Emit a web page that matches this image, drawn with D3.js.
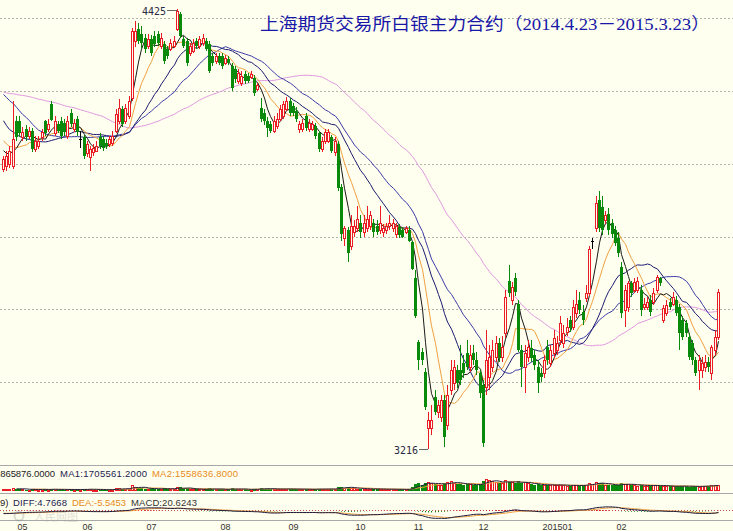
<!DOCTYPE html>
<html><head><meta charset="utf-8">
<script src="https://cdnjs.cloudflare.com/ajax/libs/d3/7.8.5/d3.min.js"></script>
<style>html,body{margin:0;padding:0;background:#ffffef;overflow:hidden}</style>
</head><body>
<svg id="c" width="733" height="531"></svg>
<script>
const titleText = "上海期货交易所白银主力合约（2014.4.23－2015.3.23）";
const holidays = ["2014-05-01","2014-05-02","2014-06-02","2014-09-08","2014-10-01","2014-10-02","2014-10-03","2014-10-06","2014-10-07","2015-01-01","2015-01-02","2015-02-18","2015-02-19","2015-02-20","2015-02-23","2015-02-24"];
const tickMonths = ["2014-05","2014-06","2014-07","2014-08","2014-09","2014-10","2014-11","2014-12","2015-01","2015-02"];
const tickLabels = ["05","06","07","08","09","10","11","12","201501","02"];
const priceTicks = [3400,3600,3800,4000,4200,4400];
const maPeriods = [5,10,20,30,60];

const priorCloses = [4140,4150,4135,4160,4170,4155,4180,4190,4175,4200,4210,4195,4220,4230,4215,4240,4250,4235,4260,4245,4230,4220,4240,4225,4210,4200,4190,4205,4215,4200,4260,4300,4330,4360,4380,4370,4350,4340,4330,4320,4290,4250,4220,4200,4180,4160,4140,4120,4100,4070,4110,4100,4090,4080,4070,4060,4040,4030,4035];

const opens = [3986,3994,4000,3994,4118,4118,4072,4096,4077,4091,4041,4049,4072,4118,4096,4165,4083,4110,4118,4113,4077,4140,4096,4123,4068,4072,4028,4017,4031,4036,4072,4068,4058,4055,4058,4091,4118,4151,4118,4132,4181,4337,4370,4357,4346,4324,4343,4351,4357,4324,4329,4315,4315,4324,4370,4411,4343,4337,4305,4310,4337,4324,4332,4337,4329,4296,4283,4296,4296,4277,4288,4269,4261,4228,4222,4247,4241,4239,4236,4206,4154,4140,4118,4110,4091,4104,4123,4132,4151,4173,4159,4145,4096,4096,4132,4096,4096,4104,4083,4041,4063,4063,4072,4031,4055,3937,3797,3817,3775,3811,3822,3838,3811,3822,3830,3838,3828,3817,3811,3817,3828,3822,3806,3825,3817,3811,3817,3784,3685,3510,3482,3427,3274,3274,3359,3318,3304,3351,3282,3378,3397,3433,3433,3452,3479,3441,3479,3460,3425,3392,3386,3414,3441,3468,3507,3468,3534,3679,3625,3685,3616,3488,3441,3468,3493,3474,3441,3425,3425,3496,3452,3479,3488,3515,3507,3537,3570,3551,3589,3625,3592,3630,3644,3789,3822,3899,3880,3844,3863,3836,3817,3795,3715,3597,3606,3671,3652,3652,3652,3606,3606,3625,3619,3652,3685,3570,3589,3619,3616,3625,3606,3570,3562,3523,3507,3460,3433,3433,3441,3455,3425,3488,3523];
const highs = [4022,4036,4049,4173,4132,4132,4102,4107,4102,4099,4077,4077,4096,4121,4123,4173,4132,4118,4129,4123,4132,4151,4123,4132,4091,4080,4063,4049,4055,4063,4083,4077,4068,4077,4091,4151,4178,4159,4165,4187,4373,4392,4387,4378,4357,4357,4354,4365,4365,4359,4337,4324,4343,4351,4425,4417,4351,4346,4332,4343,4346,4351,4357,4346,4337,4305,4305,4305,4305,4299,4296,4277,4269,4261,4255,4255,4250,4255,4244,4222,4181,4151,4129,4118,4132,4140,4162,4173,4184,4181,4167,4156,4118,4123,4140,4123,4118,4113,4091,4074,4096,4096,4080,4074,4063,3945,3830,3825,3858,3844,3885,3858,3858,3885,3871,3849,3844,3885,3833,3838,3858,3849,3838,3833,3825,3830,3828,3789,3707,3515,3493,3438,3318,3337,3378,3351,3364,3364,3392,3460,3460,3446,3501,3474,3515,3501,3501,3482,3433,3405,3542,3501,3515,3528,3521,3528,3652,3721,3674,3701,3625,3501,3501,3515,3515,3488,3460,3438,3474,3515,3501,3542,3528,3583,3556,3575,3583,3625,3652,3647,3611,3666,3775,3797,3912,3926,3912,3871,3877,3849,3830,3811,3729,3666,3679,3679,3685,3690,3666,3630,3633,3638,3658,3693,3690,3611,3625,3630,3647,3636,3616,3581,3570,3534,3515,3468,3474,3468,3474,3468,3501,3542,3657];
const lows = [3976,3981,3989,3986,4063,4072,4063,4063,4068,4031,4031,4041,4063,4075,4088,4118,4075,4083,4068,4077,4068,4102,4088,4077,4044,4014,4019,3981,4022,4031,4041,4036,4041,4047,4049,4083,4110,4102,4110,4123,4173,4321,4329,4315,4305,4315,4296,4321,4324,4315,4274,4288,4310,4318,4365,4346,4318,4269,4296,4305,4315,4315,4324,4310,4250,4269,4274,4272,4261,4272,4272,4200,4222,4220,4214,4220,4222,4233,4187,4200,4115,4107,4072,4083,4083,4096,4118,4123,4145,4132,4132,4115,4083,4088,4091,4088,4091,4068,4031,4033,4055,4058,4028,4022,3926,3789,3775,3729,3762,3800,3811,3795,3800,3811,3817,3800,3803,3806,3800,3808,3817,3811,3795,3795,3795,3806,3784,3707,3575,3433,3446,3323,3216,3255,3310,3301,3290,3222,3268,3364,3378,3383,3392,3411,3433,3427,3446,3419,3356,3222,3364,3378,3427,3455,3455,3455,3521,3633,3611,3636,3482,3386,3370,3455,3455,3433,3370,3400,3411,3446,3441,3466,3474,3501,3493,3526,3537,3542,3575,3586,3556,3619,3636,3767,3811,3811,3803,3833,3803,3795,3773,3745,3575,3551,3592,3633,3644,3644,3583,3597,3597,3581,3611,3644,3663,3562,3581,3597,3608,3581,3488,3515,3523,3460,3446,3416,3378,3411,3427,3427,3405,3474,3515];
const closes = [4014,4022,4036,4068,4072,4083,4086,4072,4091,4041,4063,4063,4086,4083,4110,4121,4118,4091,4077,4086,4118,4110,4113,4086,4068,4022,4055,4041,4044,4049,4049,4044,4049,4068,4077,4137,4154,4110,4154,4173,4365,4365,4337,4332,4315,4343,4305,4329,4332,4346,4283,4296,4332,4337,4420,4351,4324,4277,4324,4332,4324,4343,4346,4315,4255,4277,4296,4277,4269,4291,4277,4209,4233,4250,4241,4228,4228,4247,4195,4217,4123,4118,4099,4091,4118,4123,4151,4165,4173,4140,4140,4123,4110,4113,4099,4113,4110,4077,4041,4063,4086,4086,4036,4063,3932,3808,3822,3756,3830,3828,3849,3811,3838,3849,3858,3811,3811,3838,3822,3830,3838,3838,3828,3803,3800,3822,3789,3712,3583,3460,3460,3331,3296,3296,3318,3337,3351,3249,3364,3433,3441,3397,3405,3425,3441,3474,3460,3433,3370,3233,3460,3468,3488,3507,3466,3496,3633,3644,3660,3647,3488,3441,3479,3496,3466,3446,3397,3414,3460,3460,3488,3521,3507,3562,3534,3551,3548,3606,3616,3597,3570,3644,3767,3789,3891,3822,3817,3858,3817,3808,3781,3756,3589,3652,3671,3644,3674,3679,3597,3616,3619,3592,3644,3688,3671,3603,3611,3606,3633,3589,3534,3523,3534,3468,3460,3425,3460,3452,3455,3441,3496,3523,3647];
const volumes = [530000,490000,570000,920000,750000,640000,470000,450000,420000,590000,510000,420000,460000,560000,400000,640000,570000,400000,470000,420000,530000,490000,380000,460000,440000,600000,500000,660000,420000,380000,460000,430000,350000,400000,450000,770000,810000,670000,620000,730000,1720000,1370000,960000,860000,750000,640000,810000,660000,600000,690000,900000,660000,610000,570000,1200000,1120000,770000,850000,640000,570000,530000,510000,490000,570000,840000,620000,540000,520000,590000,490000,470000,820000,680000,570000,530000,490000,450000,420000,700000,540000,920000,750000,680000,590000,610000,570000,660000,630000,600000,670000,560000,570000,620000,530000,570000,510000,490000,590000,730000,620000,570000,540000,680000,640000,1140000,1350000,1070000,1120000,1000000,790000,750000,700000,640000,670000,620000,610000,570000,660000,550000,530000,570000,520000,550000,510000,490000,470000,570000,1380000,2150000,2460000,1980000,2350000,2780000,2420000,2160000,1850000,1930000,2540000,2680000,3050000,2460000,2180000,2240000,1970000,2080000,2120000,1880000,1760000,2010000,3120000,3780000,3240000,2950000,2680000,2440000,2560000,3320000,2870000,2640000,2430000,2980000,2550000,2690000,2320000,2050000,1920000,2180000,1840000,1750000,1910000,1820000,1960000,1780000,1890000,1720000,1650000,1580000,1820000,1790000,1680000,1710000,1840000,2460000,2150000,2680000,2580000,2310000,1960000,1890000,1820000,1760000,1850000,2420000,2210000,2040000,1830000,1760000,1690000,1920000,1640000,1580000,1620000,1710000,1840000,1560000,1620000,1480000,1420000,1390000,1450000,1680000,1520000,1460000,1300000,1420000,1500000,1380000,1458562,1520000,1650000,1720000,1771930,1865876];
const macdText = {diff:"4.7668", dea:"-5.5453", macd:"20.6243"};
const watermarkText = "人民网图";

// ---- trading calendar ----
const hol = new Set(holidays);
const dates = [];
for (let d = new Date(Date.UTC(2014,3,23)); d <= new Date(Date.UTC(2015,2,23)); d.setUTCDate(d.getUTCDate()+1)) {
  const wd = d.getUTCDay(); const s = d.toISOString().slice(0,10);
  if (wd !== 0 && wd !== 6 && !hol.has(s)) dates.push(s);
}
const n = closes.length;
const data = d3.range(n).map(i => ({d: dates[i], o: opens[i], h: highs[i], l: lows[i], c: closes[i], v: volumes[i]}));

const BG = "#ffffef", RED = "#ec1c24", GREEN = "#0a8a0a";
const svg = d3.select("#c");
svg.append("rect").attr("width",733).attr("height",531).attr("fill",BG);

const x = d3.scaleBand().domain(data.map(d=>d.d)).range([1.4, 719.5]).padding(0);
const cxi = d => Math.round(x(d.d) + x.bandwidth()/2);
const y = d3.scaleLinear().domain([3200,4400]).range([455, 18]);

// grid
const grid = svg.append("g").call(d3.axisLeft(y).tickValues(priceTicks).tickSize(-733).tickFormat(""));
grid.select(".domain").remove();
grid.selectAll(".tick").attr("transform", d => `translate(0,${Math.round(y(d))+0.5})`);
grid.selectAll("line").attr("stroke","#b4b4ac").attr("stroke-dasharray","2,2");

// title
svg.append("text").attr("x",260).attr("y",30).attr("fill","#1818a8")
  .attr("font-family","'Liberation Serif','Noto Sans CJK SC',serif").attr("font-size",17)
  .attr("textLength",450).attr("lengthAdjust","spacingAndGlyphs").text(titleText);

// moving averages
const allC = priorCloses.concat(closes);
const off = priorCloses.length;
function sma(arr, p){ return arr.map((v,i)=> i>=p-1 ? d3.mean(arr.slice(i-p+1,i+1)) : null); }
const maColors = ["#1a1a1a","#f0a040","#1a1a70","#3a3aa8","#e098e0"];
const gMA = svg.append("g");
maPeriods.slice().reverse().forEach((p,k) => {
  const m = sma(allC, p).slice(off);
  const line = d3.line().defined(d=>d!=null).x((d,i)=>cxi(data[i])+0.5).y(d=>y(d));
  gMA.append("path").datum(m).attr("d", line).attr("fill","none")
    .attr("stroke", maColors[maPeriods.length-1-k]).attr("stroke-width",1);
});

// candles
const gC = svg.append("g");
data.forEach(d => {
  const cx = cxi(d);
  const yo = Math.round(y(d.o)), yc = Math.round(y(d.c)), yh = Math.round(y(d.h)), yl = Math.round(y(d.l));
  if (d.c > d.o) {
    gC.append("line").attr("x1",cx+0.5).attr("x2",cx+0.5).attr("y1",yh).attr("y2",yc).attr("stroke",RED);
    gC.append("line").attr("x1",cx+0.5).attr("x2",cx+0.5).attr("y1",yo).attr("y2",yl).attr("stroke",RED);
    gC.append("rect").attr("x",cx-0.5).attr("y",yc+0.5).attr("width",2).attr("height",Math.max(yo-yc,1))
      .attr("fill",BG).attr("stroke",RED);
  } else if (d.c < d.o) {
    gC.append("line").attr("x1",cx+0.5).attr("x2",cx+0.5).attr("y1",yh).attr("y2",yl).attr("stroke",GREEN);
    gC.append("rect").attr("x",cx-1).attr("y",yo).attr("width",3).attr("height",Math.max(yc-yo,1)).attr("fill",GREEN);
  } else {
    gC.append("line").attr("x1",cx+0.5).attr("x2",cx+0.5).attr("y1",yh).attr("y2",yl).attr("stroke","#000");
    gC.append("line").attr("x1",cx-1).attr("x2",cx+2).attr("y1",yc+0.5).attr("y2",yc+0.5).attr("stroke","#000");
  }
});

// max / min annotations
const iMax = d3.maxIndex(highs), iMin = d3.minIndex(lows);
const ann = svg.append("g").attr("font-family","'DejaVu Sans Mono',monospace").attr("font-size",10).attr("fill","#2a2a44");
{
  const cx = cxi(data[iMax]), yy = Math.round(y(highs[iMax]))+0.5;
  ann.append("line").attr("x1",cx-10).attr("x2",cx).attr("y1",yy+1).attr("y2",yy+1).attr("stroke","#666");
  ann.append("text").attr("x",cx-11).attr("y",yy+5).attr("text-anchor","end").text(highs[iMax]);
}
{
  const cx = cxi(data[iMin]), yy = Math.round(y(lows[iMin]))+0.5;
  ann.append("line").attr("x1",cx-9).attr("x2",cx).attr("y1",yy).attr("y2",yy).attr("stroke","#666");
  ann.append("text").attr("x",cx-10).attr("y",yy+4).attr("text-anchor","end").text(lows[iMin]);
}

// panel separators
[465.5, 493.5, 520.5].forEach(yy => svg.append("line").attr("x1",0).attr("x2",733).attr("y1",yy).attr("y2",yy).attr("stroke","#a8a8a8"));

// volume panel
const yv = d3.scaleLinear().domain([0, 4000000]).range([491, 478]);
const gV = svg.append("g");
data.forEach(d => {
  const cx = cxi(d), top = Math.round(yv(d.v));
  if (d.c >= d.o) gV.append("rect").attr("x",cx-0.5).attr("y",top+0.5).attr("width",2).attr("height",Math.max(491-top-1,1)).attr("fill","none").attr("stroke",RED);
  else gV.append("rect").attr("x",cx-1).attr("y",top).attr("width",3).attr("height",491-top).attr("fill",GREEN);
});
const vma5 = sma(volumes,5), vma10 = sma(volumes,10);
const vline = d3.line().defined(d=>d!=null).x((d,i)=>cxi(data[i])+0.5).y(d=>yv(d));
gV.append("path").datum(vma10).attr("d",vline).attr("fill","none").attr("stroke","#f0a040");
gV.append("path").datum(vma5).attr("d",vline).attr("fill","none").attr("stroke","#202040");
const fmt4 = v => v.toFixed(4);
const vt = svg.append("g").attr("font-family","'Liberation Sans',sans-serif").attr("font-size",9.5).attr("lengthAdjust","spacingAndGlyphs");
vt.append("text").attr("x",-5).attr("y",476.5).attr("fill","#222").attr("textLength",60).text(fmt4(volumes[n-1]));
vt.append("text").attr("x",60).attr("y",476.5).attr("fill","#1a1a50").attr("textLength",87).text("MA1:"+fmt4(vma5[n-1]));
vt.append("text").attr("x",152).attr("y",476.5).attr("fill","#e88a20").attr("textLength",86).text("MA2:"+fmt4(vma10[n-1]));

// MACD panel
function ema(arr,p){ const k=2/(p+1); const out=[]; arr.forEach((v,i)=> out.push(i===0? v : out[i-1]+k*(v-out[i-1]))); return out; }
const e12 = ema(allC,12), e26 = ema(allC,26);
const diffAll = e12.map((v,i)=>v-e26[i]);
const deaAll = ema(diffAll,9);
const diff = diffAll.slice(off), dea = deaAll.slice(off);
const macd = diff.map((v,i)=>2*(v-dea[i]));
const mAbs = d3.max(diff.concat(dea), v=>Math.abs(v));
const ym = d3.scaleLinear().domain([-mAbs, mAbs]).range([518.5, 503.5]).clamp(true);
const gM = svg.append("g");
gM.append("line").attr("x1",0).attr("x2",733).attr("y1",510.5).attr("y2",510.5).attr("stroke","#c05050").attr("stroke-dasharray","1,2");
data.forEach((d,i) => {
  const cx = cxi(d)+0.5;
  gM.append("line").attr("x1",cx).attr("x2",cx).attr("y1",ym(0)).attr("y2",ym(macd[i]*0.35))
    .attr("stroke", macd[i]>=0 ? RED : GREEN);
});
const mline = d3.line().x((d,i)=>cxi(data[i])+0.5).y(d=>ym(d));
gM.append("path").datum(dea).attr("d",mline).attr("fill","none").attr("stroke","#f0a040");
gM.append("path").datum(diff).attr("d",mline).attr("fill","none").attr("stroke","#1a1a40");
const mt = svg.append("g").attr("font-family","'Liberation Sans',sans-serif").attr("font-size",9.5).attr("lengthAdjust","spacingAndGlyphs");
mt.append("text").attr("x",0).attr("y",505.5).attr("fill","#222").text("9)");
mt.append("text").attr("x",13).attr("y",505.5).attr("fill","#1a1a50").attr("textLength",54).text("DIFF:"+macdText.diff);
mt.append("text").attr("x",72).attr("y",505.5).attr("fill","#e88a20").attr("textLength",54).text("DEA:"+macdText.dea);
mt.append("text").attr("x",131).attr("y",505.5).attr("fill","#333").attr("textLength",66).text("MACD:"+macdText.macd);

// watermark
const wm = svg.append("g").attr("opacity",0.3);
wm.append("circle").attr("cx",19).attr("cy",516).attr("r",4.5).attr("fill","none").attr("stroke","#888").attr("stroke-width",2);
wm.append("text").attr("x",34).attr("y",521).attr("font-family","'Noto Sans CJK SC'").attr("font-size",11).attr("fill","#999").text(watermarkText);

// month labels
const firstDay = {};
data.forEach(d => { const k = d.d.slice(0,7); if (!(k in firstDay)) firstDay[k] = d; });
const gx = svg.append("g").attr("font-family","'Liberation Sans',sans-serif").attr("font-size",9).attr("fill","#333");
tickMonths.forEach((m,k) => {
  const d = firstDay[m]; if (!d) return;
  gx.append("text").attr("x", cxi(d)+0.5).attr("y",530).attr("text-anchor","middle").text(tickLabels[k]);
});
</script>
</body></html>
